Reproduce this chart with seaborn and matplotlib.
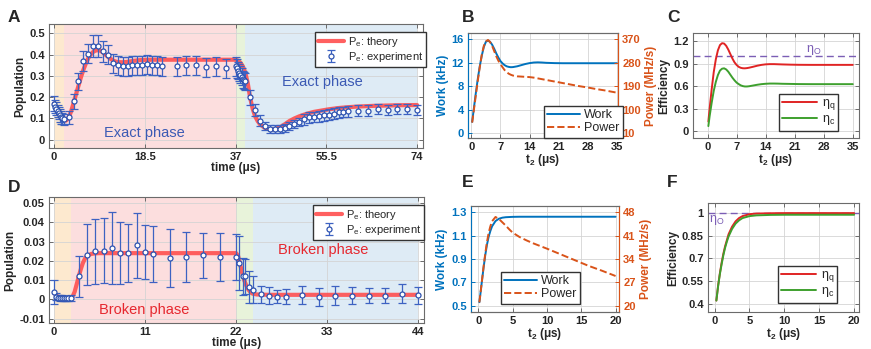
import matplotlib
matplotlib.use('Agg')
import matplotlib.pyplot as plt
import seaborn as sns
import pandas as pd
from matplotlib.lines import Line2D

# ---- panel A: exact phase, population ----
a_edges = [0, 2, 37, 39, 74]
a_t_th = [0, 0.5, 1, 1.5, 2, 2.5, 3, 3.5, 4, 4.5, 5, 5.5, 6, 6.5, 7, 7.5, 8, 8.5, 9, 9.5,
          10, 10.5, 11, 11.5, 12, 12.5, 13, 14, 15, 16, 17, 18, 20, 25, 30, 35, 37,
          37.5, 38, 38.5, 39, 39.5, 40, 40.5, 41, 41.5, 42, 43, 44, 45, 46, 47, 48, 49,
          50, 51, 52, 53, 54, 55, 56, 58, 60, 62, 65, 70, 74]
a_p_th = [0.170, 0.150, 0.128, 0.108, 0.094, 0.090, 0.103, 0.133, 0.172, 0.213, 0.253, 0.293,
          0.328, 0.358, 0.383, 0.401, 0.413, 0.419, 0.421, 0.418, 0.410, 0.400, 0.390, 0.381,
          0.373, 0.368, 0.365, 0.364, 0.366, 0.370, 0.373, 0.375, 0.376, 0.376, 0.376, 0.376,
          0.376, 0.372, 0.362, 0.345, 0.315, 0.265, 0.195, 0.145, 0.110, 0.088, 0.072, 0.055,
          0.048, 0.049, 0.058, 0.072, 0.088, 0.100, 0.110, 0.118, 0.125, 0.131, 0.135, 0.139,
          0.143, 0.149, 0.153, 0.156, 0.159, 0.162, 0.163]
a_t_ex = [0, 0.25, 0.5, 0.75, 1, 1.25, 1.5, 1.75, 2,
          3, 4, 5, 6, 7, 8, 9, 10, 11, 12, 13, 14, 15, 16, 17, 18, 19, 20, 21, 22,
          25, 27, 29, 31, 33, 35,
          37, 37.25, 37.5, 37.75, 38, 38.25, 38.5, 38.75, 39,
          40, 41, 42, 43, 44, 45, 46, 47, 48, 49, 50, 51, 52, 53, 54, 55, 56, 57, 58, 59, 60,
          62, 64, 66, 68, 70, 72, 74]
a_p_ex = [0.170, 0.155, 0.145, 0.135, 0.125, 0.115, 0.105, 0.100, 0.095,
          0.105, 0.180, 0.275, 0.370, 0.405, 0.440, 0.440, 0.415, 0.400, 0.360, 0.350, 0.345,
          0.345, 0.350, 0.350, 0.350, 0.355, 0.350, 0.350, 0.345,
          0.345, 0.350, 0.350, 0.340, 0.345, 0.335,
          0.345, 0.335, 0.325, 0.315, 0.305, 0.295, 0.285, 0.280, 0.275,
          0.200, 0.140, 0.090, 0.065, 0.050, 0.050, 0.050, 0.055, 0.065, 0.073, 0.084, 0.095,
          0.105, 0.107, 0.110, 0.115, 0.118, 0.122, 0.128, 0.130, 0.133,
          0.137, 0.137, 0.145, 0.140, 0.145, 0.145, 0.140]
a_e_ex = [0.035, 0.03, 0.03, 0.03, 0.03, 0.03, 0.03, 0.025, 0.025,
          0.03, 0.035, 0.04, 0.045, 0.045, 0.05, 0.05, 0.05, 0.045, 0.045, 0.045, 0.045,
          0.045, 0.045, 0.045, 0.045, 0.045, 0.045, 0.045, 0.045,
          0.045, 0.045, 0.045, 0.045, 0.045, 0.045,
          0.045, 0.045, 0.04, 0.04, 0.04, 0.04, 0.04, 0.04, 0.04,
          0.035, 0.03, 0.025, 0.02, 0.02, 0.02, 0.02, 0.02, 0.02, 0.02, 0.02, 0.025,
          0.025, 0.025, 0.025, 0.025, 0.025, 0.025, 0.025, 0.025, 0.025,
          0.025, 0.025, 0.025, 0.025, 0.025, 0.025, 0.025]

# ---- panel D: broken phase, population ----
d_edges = [0, 2, 22, 24, 44]
d_t_th = [0, 0.25, 0.5, 0.75, 1, 1.5, 2, 2.25, 2.5, 2.75, 3, 3.25, 3.5, 3.75, 4, 4.5, 5,
          5.5, 6, 8, 12, 16, 20, 22, 22.25, 22.5, 22.75, 23, 23.25, 23.5, 23.75, 24, 24.5,
          25, 26, 30, 35, 40, 44]
d_p_th = [0.0035, 0.0022, 0.0013, 0.0008, 0.0006, 0.0005, 0.0005, 0.0015, 0.0040, 0.0080,
          0.0120, 0.0158, 0.0190, 0.0212, 0.0226, 0.0236, 0.0239, 0.0240, 0.0240, 0.0240,
          0.0240, 0.0240, 0.0240, 0.0240, 0.0225, 0.0180, 0.0135, 0.0098, 0.0070, 0.0050,
          0.0037, 0.0030, 0.0026, 0.0025, 0.0024, 0.0024, 0.0024, 0.0024, 0.0024]
d_t_ex = [0, 0.25, 0.5, 0.75, 1, 1.25, 1.5, 1.75, 2,
          3, 4, 5, 6, 7, 8, 9, 10, 11, 12, 14, 16, 18, 20, 22,
          22.4, 22.8, 23.1, 23.5, 24, 25, 26, 27, 28, 30, 32, 34, 36, 38, 40, 42, 44]
d_p_ex = [0.0038, 0.0015, 0.0010, 0.0008, 0.0006, 0.0005, 0.0005, 0.0005, 0.0006,
          0.0120, 0.0233, 0.0250, 0.0253, 0.0266, 0.0242, 0.0240, 0.0280, 0.0245, 0.0238,
          0.0215, 0.0220, 0.0228, 0.0220, 0.0220,
          0.0190, 0.0120, 0.0120, 0.0065, 0.0050, 0.0027, 0.0020, 0.0015, 0.0015, 0.0022,
          0.0012, 0.0020, 0.0020, 0.0020, 0.0020, 0.0030, 0.0022]
d_e_ex = [0.0062, 0.0018, 0.0015, 0.0015, 0.0015, 0.0015, 0.0015, 0.0015, 0.0015,
          0.0105, 0.0158, 0.0168, 0.0170, 0.0185, 0.0160, 0.0150, 0.0170, 0.0140, 0.0145,
          0.0148, 0.0130, 0.0115, 0.0125, 0.0120,
          0.0140, 0.0095, 0.0090, 0.0085, 0.0070, 0.0045, 0.0042, 0.0035, 0.0040, 0.0048,
          0.0045, 0.0048, 0.0042, 0.0040, 0.0040, 0.0050, 0.0045]

# ---- panel B: work and power (exact) ----
b_t_w = [0.2, 0.5, 1, 1.5, 2, 2.5, 3, 3.5, 4, 4.5, 5, 5.5, 6, 6.5, 7, 7.5, 8, 8.5, 9, 9.5,
         10, 11, 12, 13, 14, 15, 16, 17, 18, 20, 22, 25, 28, 31, 35]
b_work = [1.9, 3.6, 6.4, 9.0, 11.3, 13.2, 14.7, 15.6, 15.8, 15.6, 15.1, 14.4, 13.6, 12.9,
          12.3, 11.9, 11.6, 11.4, 11.3, 11.25, 11.27, 11.4, 11.6, 11.8, 11.95, 12.05, 12.08,
          12.05, 12.0, 11.95, 11.93, 11.93, 11.93, 11.93, 11.93]
b_t_p = [0.2, 0.5, 1, 1.5, 2, 2.5, 3, 3.5, 4, 4.5, 5, 5.5, 6, 6.5, 7, 7.5, 8, 8.5, 9, 9.5,
         10, 11, 12, 13, 14, 15, 16, 18, 20, 22, 24, 26, 28, 30, 32, 35]
b_power = [50, 85, 145, 205, 260, 310, 345, 362, 368, 360, 345, 325, 305, 288, 275, 263,
           252, 244, 238, 234, 231, 228, 227, 226, 225, 223, 220, 214, 208, 202, 196, 190,
           185, 179, 174, 165]

# ---- panel C: efficiency (exact) ----
c_t = [0.2, 0.5, 1, 1.5, 2, 2.5, 3, 3.5, 4, 4.5, 5, 5.5, 6, 6.5, 7, 7.5, 8, 8.5, 9, 9.5,
       10, 11, 12, 13, 14, 15, 16, 17, 18, 20, 22, 25, 28, 31, 35]
c_eta_q = [0.13, 0.30, 0.56, 0.79, 0.96, 1.08, 1.15, 1.175, 1.17, 1.14, 1.09, 1.03, 0.97,
           0.92, 0.885, 0.86, 0.847, 0.841, 0.840, 0.843, 0.848, 0.861, 0.875, 0.886, 0.893,
           0.896, 0.896, 0.894, 0.892, 0.889, 0.887, 0.886, 0.886, 0.886, 0.886]
c_eta_c = [0.07, 0.20, 0.38, 0.54, 0.66, 0.75, 0.81, 0.835, 0.84, 0.825, 0.795, 0.755, 0.715,
           0.68, 0.65, 0.63, 0.613, 0.603, 0.598, 0.598, 0.601, 0.611, 0.621, 0.629, 0.634,
           0.637, 0.637, 0.636, 0.634, 0.632, 0.630, 0.629, 0.629, 0.629, 0.629]
c_eta_o = 1.0

# ---- panel E: work and power (broken) ----
e_t_w = [0.15, 0.3, 0.5, 0.75, 1, 1.25, 1.5, 1.75, 2, 2.5, 3, 3.5, 4, 5, 6, 8, 10, 15, 20]
e_work = [0.53, 0.60, 0.70, 0.82, 0.93, 1.02, 1.09, 1.14, 1.18, 1.225, 1.245, 1.254, 1.258,
          1.261, 1.262, 1.262, 1.262, 1.262, 1.262]
e_t_p = [0.15, 0.3, 0.5, 0.75, 1, 1.25, 1.5, 1.75, 2, 2.5, 3, 3.5, 4, 4.5, 5, 6, 7, 8, 9,
         10, 12, 14, 16, 18, 20]
e_power = [21, 23.5, 27, 31.5, 35.5, 39, 41.8, 43.8, 45.3, 46.6, 46.0, 45.0, 44.0, 42.9,
           41.9, 40.6, 39.6, 38.7, 37.9, 37.1, 35.4, 33.7, 32.0, 30.5, 28.9]

# ---- panel F: efficiency (broken) ----
f_t = [0.25, 0.5, 0.75, 1, 1.25, 1.5, 1.75, 2, 2.5, 3, 3.5, 4, 5, 6, 8, 10, 15, 20]
f_eta_q = [0.42, 0.52, 0.60, 0.67, 0.73, 0.78, 0.82, 0.86, 0.91, 0.945, 0.967, 0.98, 0.993,
           0.997, 0.999, 1.0, 1.0, 1.0]
f_eta_c = [0.42, 0.515, 0.595, 0.66, 0.72, 0.77, 0.81, 0.845, 0.895, 0.93, 0.952, 0.967,
           0.98, 0.985, 0.988, 0.989, 0.989, 0.989]
f_eta_o = 1.0

sns.set_theme(style='whitegrid')
plt.rcParams['font.family'] = ['Liberation Sans', 'DejaVu Sans']
plt.rcParams['mathtext.default'] = 'regular'
plt.rcParams['axes.unicode_minus'] = False

BAND = ['#fde9cf', '#fcdede', '#e8f3da', '#deebf5']
TH_RED = '#ff4f4f'
EX_BLUE = '#2d52b0'
WORK = '#0072bd'
POWER = '#d95319'
ETA_Q = '#e02424'
ETA_C = '#3ea02e'
ETA_O = '#7b5eb5'
EDGE = '#6b6b6b'
GRID = '#d4d4d4'
TICK = 8

fig = plt.figure(figsize=(8.71, 3.49), dpi=100)
W, H = 871, 349


def add_ax(l, t, r, b):
    return fig.add_axes([l / W, 1 - b / H, (r - l) / W, (b - t) / H])


def fig_legend(ax, handles, labels, xy, fs, hl):
    # legend box placed by its upper-left corner in figure pixels
    ax.legend(handles, labels, fontsize=fs, loc='upper left',
              bbox_to_anchor=(xy[0] / W, 1 - xy[1] / H), bbox_transform=fig.transFigure,
              borderaxespad=0, frameon=True, fancybox=False, framealpha=1,
              edgecolor='#333333', borderpad=0.25, handlelength=hl, handletextpad=0.35,
              labelspacing=0.1)


def style(ax, boxed=True):
    for s in ax.spines.values():
        s.set_color(EDGE)
        s.set_linewidth(0.8)
    ax.grid(True, color=GRID, lw=0.6)
    ax.set_axisbelow('line')
    ax.tick_params(direction='in', length=3, width=0.7, color=EDGE, labelsize=TICK,
                   pad=3, bottom=True, left=True, top=boxed, right=boxed)
    for lab in ax.get_xticklabels() + ax.get_yticklabels():
        lab.set_fontweight('bold')


def phase_panel(ax, edges, t_th, p_th, t_ex, p_ex, e_ex, cap, leg_xy):
    for i in range(4):
        ax.axvspan(edges[i], edges[i + 1], color=BAND[i], lw=0, zorder=0.3)
    df = pd.DataFrame({'t': t_th, 'p': p_th})
    sns.lineplot(data=df, x='t', y='p', ax=ax, color=TH_RED, lw=3, alpha=0.9, zorder=3)
    eb = ax.errorbar(t_ex, p_ex, yerr=e_ex, fmt='o', ms=3.6, mfc='white', mec=EX_BLUE,
                     mew=0.9, ecolor='#3d62c2', elinewidth=0.9, capsize=cap,
                     capthick=0.9, zorder=4)
    h_th = Line2D([], [], color=TH_RED, lw=3, alpha=0.9)
    fig_legend(ax, [h_th, eb], ['P$_e$: theory', 'P$_e$: experiment'], leg_xy, 8, 2.4)
    ax.set_xlabel('time (μs)', fontsize=8.5, fontweight='bold', labelpad=0)
    ax.set_ylabel('Population', fontsize=8.5, fontweight='bold', labelpad=2)


# A
axA = add_ax(49, 24, 423, 148)
phase_panel(axA, a_edges, a_t_th, a_p_th, a_t_ex, a_p_ex, a_e_ex, 2.6, (315, 32))
axA.set_xlim(-1.0, 75.2)
axA.set_ylim(-0.039, 0.544)
axA.set_xticks([0, 18.5, 37, 55.5, 74], ['0', '18.5', '37', '55.5', '74'])
axA.set_yticks([0, 0.1, 0.2, 0.3, 0.4, 0.5], ['0', '0.1', '0.2', '0.3', '0.4', '0.5'])
axA.text(18.5, 0.031, 'Exact phase', color='#3c5ab4', fontsize=10.5, ha='center', va='center')
axA.text(54.8, 0.273, 'Exact phase', color='#3c5ab4', fontsize=10.5, ha='center', va='center')
style(axA)

# D
axD = add_ax(49, 197, 424, 323)
phase_panel(axD, d_edges, d_t_th, d_p_th, d_t_ex, d_p_ex, d_e_ex, 3, (313, 205))
axD.set_xlim(-0.6, 44.7)
axD.set_ylim(-0.0122, 0.0531)
axD.set_xticks([0, 11, 22, 33, 44], ['0', '11', '22', '33', '44'])
axD.set_yticks([-0.01, 0, 0.01, 0.02, 0.03, 0.04, 0.05],
               ['-0.01', '0', '0.01', '0.02', '0.03', '0.04', '0.05'])
axD.text(10.95, -0.0054, 'Broken phase', color='#e6282f', fontsize=10.5, ha='center', va='center')
axD.text(32.5, 0.0255, 'Broken phase', color='#e6282f', fontsize=10.5, ha='center', va='center')
style(axD)


def work_power(ax, t_w, work, t_p, power, xlim, ylim_w, ylim_p, xt, yt_w, yl_w, yt_p, leg_xy):
    ax2 = ax.twinx()
    sns.lineplot(x=t_w, y=work, ax=ax, color=WORK, lw=1.4, legend=False)
    sns.lineplot(x=t_p, y=power, ax=ax2, color=POWER, lw=1.4, ls='--', legend=False)
    ax.set_xlim(*xlim)
    ax.set_ylim(*ylim_w)
    ax2.set_ylim(*ylim_p)
    ax.set_xticks(xt, [str(v) for v in xt])
    ax.set_yticks(yt_w, yl_w)
    ax2.set_yticks(yt_p, [str(v) for v in yt_p])
    style(ax, boxed=False)
    ax2.grid(False)
    ax2.tick_params(direction='in', length=3, width=0.7, labelsize=TICK, pad=3,
                    colors=POWER, right=True)
    ax.tick_params(axis='y', colors=WORK)
    ax.tick_params(axis='x', colors='#222222')
    ax.tick_params(axis='x', color=EDGE)
    for lab in ax2.get_yticklabels():
        lab.set_fontweight('bold')
    for s in ax2.spines.values():
        s.set_linewidth(0.8)
        s.set_color(EDGE)
    ax2.spines['left'].set_color(WORK)
    ax2.spines['right'].set_color(POWER)
    ax.set_xlabel('t$_2$ (μs)', fontsize=8.5, fontweight='bold', labelpad=0)
    ax.set_ylabel('Work (kHz)', fontsize=8.5, fontweight='bold', color=WORK, labelpad=2)
    ax2.set_ylabel('Power (MHz/s)', fontsize=8.5, fontweight='bold', color=POWER, labelpad=3)
    hs = [Line2D([], [], color=WORK, lw=1.4), Line2D([], [], color=POWER, lw=1.4, ls='--')]
    fig_legend(ax2, hs, ['Work', 'Power'], leg_xy, 9, 2.6)


# B
axB = add_ax(468, 33, 618, 138)
work_power(axB, b_t_w, b_work, b_t_p, b_power, (-0.8, 35.25), (-0.86, 17.1),
           (10 - 0.86 * 22.5, 10 + 17.1 * 22.5), [0, 7, 14, 21, 28, 35], [0, 4, 8, 12, 16],
           ['0', '4', '8', '12', '16'], [10, 100, 190, 280, 370], (544, 106))

# E
axE = add_ax(471, 206, 619, 312)
work_power(axE, e_t_w, e_work, e_t_p, e_power, (-1.07, 20.5), (0.446, 1.354),
           (20 + (0.446 - 0.5) * 35, 20 + (1.354 - 0.5) * 35), [0, 5, 10, 15, 20],
           [0.5, 0.7, 0.9, 1.1, 1.3], ['0.5', '0.7', '0.9', '1.1', '1.3'],
           [20, 27, 34, 41, 48], (501, 272))


def eff_panel(ax, t, eq, ec, eo, leg_xy):
    sns.lineplot(x=t, y=eq, ax=ax, color=ETA_Q, lw=1.4)
    sns.lineplot(x=t, y=ec, ax=ax, color=ETA_C, lw=1.4)
    ax.axhline(eo, color=ETA_O, lw=1.0, ls=(0, (5, 3)), zorder=1.8)
    hs = [Line2D([], [], color=ETA_Q, lw=1.4), Line2D([], [], color=ETA_C, lw=1.4)]
    fig_legend(ax, hs, ['η$_q$', 'η$_c$'], leg_xy, 9, 2.8)
    ax.set_xlabel('t$_2$ (μs)', fontsize=8.5, fontweight='bold', labelpad=0)
    ax.set_ylabel('Efficiency', fontsize=8.5, fontweight='bold', labelpad=2)


# C
axC = add_ax(693, 33, 859, 138)
eff_panel(axC, c_t, c_eta_q, c_eta_c, c_eta_o, (779, 94))
axC.set_xlim(-3.5, 36.5)
axC.set_ylim(-0.089, 1.311)
axC.set_xticks([0, 7, 14, 21, 28, 35], ['0', '7', '14', '21', '28', '35'])
axC.set_yticks([0, 0.3, 0.6, 0.9, 1.2], ['0', '0.3', '0.6', '0.9', '1.2'])
axC.text(25.5, 1.08, 'η$_O$', color=ETA_O, fontsize=9, ha='center', va='center')
style(axC)

# F
axF = add_ax(708, 203, 859, 312)
eff_panel(axF, f_t, f_eta_q, f_eta_c, f_eta_o, (778, 266))
axF.set_xlim(-0.95, 20.7)
axF.set_ylim(0.344, 1.067)
axF.set_xticks([0, 5, 10, 15, 20], ['0', '5', '10', '15', '20'])
axF.set_yticks([0.4, 0.55, 0.7, 0.85, 1], ['0.4', '0.55', '0.7', '0.85', '1'])
axF.text(-0.8, 0.955, 'η$_O$', color=ETA_O, fontsize=9, ha='left', va='center')
style(axF)

for lab, x, y in [('A', 8, 17), ('B', 462, 17), ('C', 667, 17),
                  ('D', 8, 187), ('E', 462, 183), ('F', 667, 183)]:
    fig.text(x / W, 1 - y / H, lab, fontsize=12.5, fontweight='bold', ha='left', va='center')

fig.savefig('out.png', dpi=100)
